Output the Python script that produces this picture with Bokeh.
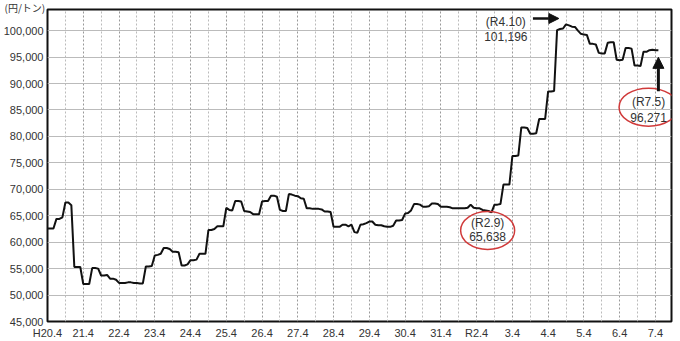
from bokeh.plotting import figure
from bokeh.models import Range1d, FixedTicker, NumeralTickFormatter, Label, Arrow, NormalHead, Title
from bokeh.embed import file_html
from bokeh.resources import INLINE

# ---- data (monthly, from H20.4 = April 2008), 円/トン ----
fy2008 = [62600, 62600, 62600, 64400, 64400, 64700, 67500, 67500, 67000, 55300, 55300, 55300]
fy2009 = [52100, 52100, 52100, 55100, 55100, 55000, 53700, 53700, 53800, 53100, 53100, 52900]
fy2010 = [52300, 52300, 52300, 52400, 52400, 52300, 52300, 52200, 52200, 55400, 55400, 55500]
fy2011 = [57500, 57600, 57800, 58900, 58900, 58700, 58200, 58200, 58100, 55600, 55600, 55800]
fy2012 = [56600, 56600, 56700, 57800, 57800, 57800, 62300, 62300, 62500, 63000, 63000, 63000]
fy2013 = [66500, 66100, 66000, 67800, 67800, 67700, 65900, 65800, 65700, 65300, 65300, 65300]
fy2014 = [67700, 67800, 67800, 68800, 68800, 68600, 66100, 65900, 65900, 69100, 69000, 68800]
fy2015 = [68700, 68300, 68200, 66400, 66400, 66300, 66300, 66300, 66200, 65800, 65800, 65700]
fy2016 = [62900, 62900, 62900, 63300, 63300, 63000, 63300, 61900, 61800, 63300, 63400, 63600]
fy2017 = [63900, 63900, 63300, 63200, 63200, 63000, 62900, 62900, 63100, 64100, 64100, 64200]
fy2018 = [65400, 65500, 66000, 67200, 67200, 67100, 66700, 66700, 66800, 67300, 67300, 67200]
fy2019 = [66700, 66700, 66700, 66600, 66400, 66400, 66400, 66400, 66400, 66500, 67100, 66500]
fy2020 = [66400, 66400, 66100, 66000, 65900, 65638, 67100, 67100, 67200, 70900, 70900, 70900]
fy2021 = [76300, 76300, 76400, 81700, 81700, 81600, 80500, 80500, 80600, 83300, 83300, 83300]
fy2022 = [88500, 88500, 88600, 100100, 100300, 100400, 101196, 101000, 100750, 100700, 100000, 99400]
fy2023 = [99250, 99200, 97500, 97500, 97400, 95800, 95700, 95700, 97700, 97800, 97800, 94500]
fy2024 = [94400, 94500, 96700, 96700, 96600, 93400, 93400, 93300, 96000, 96000, 96300, 96400]
fy2025 = [96300, 96271]

prices = (fy2008 + fy2009 + fy2010 + fy2011 + fy2012 + fy2013 + fy2014 + fy2015 + fy2016
          + fy2017 + fy2018 + fy2019 + fy2020 + fy2021 + fy2022 + fy2023 + fy2024 + fy2025)
months = list(range(len(prices)))

tick_labels = ["H20.4", "21.4", "22.4", "23.4", "24.4", "25.4", "26.4", "27.4", "28.4",
               "29.4", "30.4", "31.4", "R2.4", "3.4", "4.4", "5.4", "6.4", "7.4"]
y_ticks = list(range(45000, 100001, 5000))

peak_label = ["(R4.10)", "101,196"]
low_label = ["(R2.9)", "65,638"]
last_label = ["(R7.5)", "96,271"]
unit_label = "(円/トン)"

# ---- figure ----
Y_TOP = 104000
p = figure(width=680, height=341, output_backend="svg", toolbar_location=None, title=None,
           x_range=Range1d(0, 209.4), y_range=Range1d(45000, Y_TOP),
           min_border_left=45, min_border_right=9, min_border_top=9, min_border_bottom=19)

p.background_fill_color = "white"
p.border_fill_color = "white"
p.outline_line_color = "#111111"
p.outline_line_width = 2

x_major = [i * 12 for i in range(len(tick_labels))]
x_minor = [i * 12 + 6 for i in range(len(tick_labels))]
p.xaxis.ticker = FixedTicker(ticks=x_major, minor_ticks=x_minor)
p.xaxis.major_label_overrides = {t: s for t, s in zip(x_major, tick_labels)}
p.yaxis.ticker = FixedTicker(ticks=y_ticks)
p.yaxis.formatter = NumeralTickFormatter(format="0,0")

for ax in (p.xaxis, p.yaxis):
    ax.axis_line_color = None
    ax.major_tick_line_color = None
    ax.minor_tick_line_color = None
    ax.major_tick_out = 0
    ax.major_tick_in = 0
    ax.minor_tick_out = 0
    ax.minor_tick_in = 0
    ax.major_label_text_font = "Liberation Sans"
    ax.major_label_text_font_size = "11px"
    ax.major_label_text_color = "#333333"
p.xaxis.major_label_standoff = 5
p.yaxis.major_label_standoff = 4

p.ygrid.grid_line_color = "#bbbbbb"
p.ygrid.grid_line_width = 1
p.xgrid.grid_line_color = "#999999"
p.xgrid.grid_line_dash = "2 2"
p.xgrid.minor_grid_line_color = "#bbbbbb"
p.xgrid.minor_grid_line_dash = "2 2"

p.line(months, prices, line_color="#111111", line_width=2)

# ---- annotations ----
txt = dict(text_font="Liberation Sans", text_font_size="12px", text_color="#333333",
           text_align="center", text_baseline="middle")

i_peak = prices.index(max(prices))
i_low = 149
i_last = len(prices) - 1

# peak label + arrow
p.add_layout(Label(x=i_peak - 20.2, y=101550, text=peak_label[0], **txt))
p.add_layout(Label(x=i_peak - 20.2, y=98900, text=peak_label[1], **txt))
p.add_layout(Arrow(end=NormalHead(size=10, fill_color="#111111", line_color="#111111"),
                   x_start=i_peak - 11.1, y_start=102300, x_end=i_peak - 2.4, y_end=102300,
                   line_color="#111111", line_width=2.5))

# low label in red ellipse
p.ellipse(x=[i_low - 1.3], y=[62210], width=54, height=38,
          width_units="screen", height_units="screen",
          fill_color=None, line_color="#d03a3a", line_width=1.5)
p.add_layout(Label(x=i_low - 1.3, y=63660, text=low_label[0], **txt))
p.add_layout(Label(x=i_low - 1.3, y=61020, text=low_label[1], **txt))

# last label in red ellipse + arrow
p.ellipse(x=[i_last - 3.3], y=[85530], width=59, height=38,
          width_units="screen", height_units="screen",
          fill_color=None, line_color="#d03a3a", line_width=1.5)
p.add_layout(Label(x=i_last - 3.3, y=86470, text=last_label[0], **txt))
p.add_layout(Label(x=i_last - 3.3, y=83640, text=last_label[1], **txt))
p.add_layout(Arrow(end=NormalHead(size=11, fill_color="#111111", line_color="#111111"),
                   x_start=i_last, y_start=88540, x_end=i_last, y_end=94950,
                   line_color="#111111", line_width=3))

# unit label at the top left (a title shifted into the left margin)
p.add_layout(Title(text=unit_label, align="left", offset=-43, standoff=-10,
                   text_font="Noto Sans CJK JP", text_font_size="10px",
                   text_font_style="normal", text_color="#333333",
                   text_line_height=0.9), "above")

open("out.html", "w").write(file_html(p, INLINE))
